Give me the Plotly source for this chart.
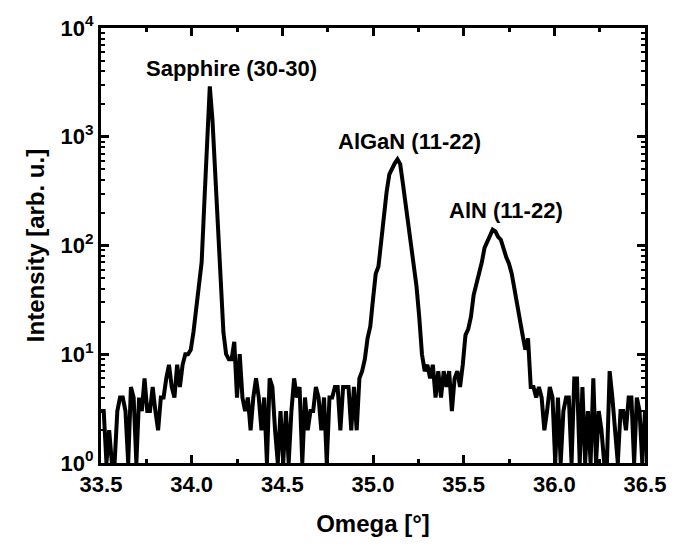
import plotly.graph_objects as go

# Omega scan: 0.015 deg steps from 33.5 to 36.5 deg
omega_start = 33.5
omega_step = 0.015
intensity = [
    3, 3, 1, 2, 1, 1, 3, 4, 4, 3,
    1, 5, 4, 1, 4, 3, 6, 3, 3, 5,
    3, 2, 4, 4, 6, 8, 5, 4, 8, 5,
    8, 10, 10, 11, 16, 28, 40, 70, 250, 900,
    2900, 1400, 450, 110, 38, 16, 10, 9, 9, 13,
    4, 10, 4, 3, 4, 2, 4, 6, 4, 2,
    4, 1, 6, 5, 2, 1, 3, 1, 3, 1,
    3, 6, 4, 5, 1, 4, 2, 3, 3, 5,
    4, 2, 4, 1, 4, 4, 5, 5, 2, 5,
    5, 5, 2, 5, 2, 6, 7, 9, 14, 18,
    32, 55, 64, 110, 200, 310, 450, 510, 570, 620,
    560, 370, 240, 140, 90, 60, 42, 22, 10, 7,
    8, 6, 8, 4, 7, 4, 7, 5, 7, 3,
    6, 7, 5, 8, 15, 17, 22, 35, 43, 55,
    70, 95, 108, 125, 140, 135, 120, 113, 90, 78,
    68, 55, 40, 28, 19, 15, 11, 14, 5, 5,
    4, 5, 4, 2, 3, 5, 4, 1, 4, 1,
    3, 4, 4, 1, 6, 6, 1, 5, 1, 3,
    1, 6, 1, 3, 2, 1, 1, 7, 4, 2,
    1, 3, 3, 2, 4, 4, 1, 4, 3, 1,
    3,
]
omega = [round(omega_start + omega_step * i, 3) for i in range(len(intensity))]

# Peak labels: (text, omega, log10 intensity)
peak_labels = ["Sapphire (30-30)", "AlGaN (11-22)", "AlN (11-22)"]
peak_label_x = [34.218, 35.20, 35.732]
peak_label_logy = [3.627, 2.955, 2.318]

x_tick_vals = [33.5, 34.0, 34.5, 35.0, 35.5, 36.0, 36.5]
x_tick_text = ["33.5", "34.0", "34.5", "35.0", "35.5", "36.0", "36.5"]
y_tick_vals = [1, 10, 100, 1000, 10000]
y_tick_text = ["10<sup>0</sup>", "10<sup>1</sup>", "10<sup>2</sup>", "10<sup>3</sup>", "10<sup>4</sup>"]
y_minor_vals = [m * d for d in (1, 10, 100, 1000) for m in range(2, 10)]

FONT = "Liberation Sans, Arial, sans-serif"

fig = go.Figure()
fig.add_trace(go.Scatter(
    x=omega, y=intensity, mode="lines",
    line=dict(color="black", width=4),
    showlegend=False,
))

for text, xv, yv in zip(peak_labels, peak_label_x, peak_label_logy):
    fig.add_annotation(
        x=xv, y=yv, xref="x", yref="y", text=f"<b>{text}</b>",
        showarrow=False, font=dict(family=FONT, size=22, color="black"),
    )

axis_common = dict(
    showline=True, linecolor="black", linewidth=3, mirror="allticks",
    ticks="inside", ticklen=8, tickwidth=2.5, tickcolor="black",
    showgrid=False, zeroline=False,
    tickfont=dict(family=FONT, size=22, color="black"),
)

fig.update_xaxes(
    range=[33.5, 36.5], tickvals=x_tick_vals,
    ticktext=[f"<b>{t}</b>" for t in x_tick_text],
    minor=dict(ticks="inside", ticklen=4, tickwidth=2.5, tickcolor="black",
               dtick=0.25, tick0=33.5, showgrid=False),
    title=dict(text="<b>Omega [°]</b>", font=dict(family=FONT, size=24, color="black"), standoff=19),
    **axis_common,
)
fig.update_yaxes(
    type="log", range=[0, 4], tickvals=y_tick_vals,
    ticktext=[f"<b>{t}</b>" for t in y_tick_text],
    minor=dict(ticks="inside", ticklen=4, tickwidth=2, tickcolor="black",
               tickvals=y_minor_vals, showgrid=False),
    title=dict(text="<b>Intensity [arb. u.]</b>", font=dict(family=FONT, size=24, color="black"), standoff=10),
    **axis_common,
)

fig.update_layout(
    width=678, height=550,
    margin=dict(l=101, r=32, t=23, b=87),
    paper_bgcolor="white", plot_bgcolor="white",
    font=dict(family=FONT, color="black"),
)

fig.write_html("out.html")
